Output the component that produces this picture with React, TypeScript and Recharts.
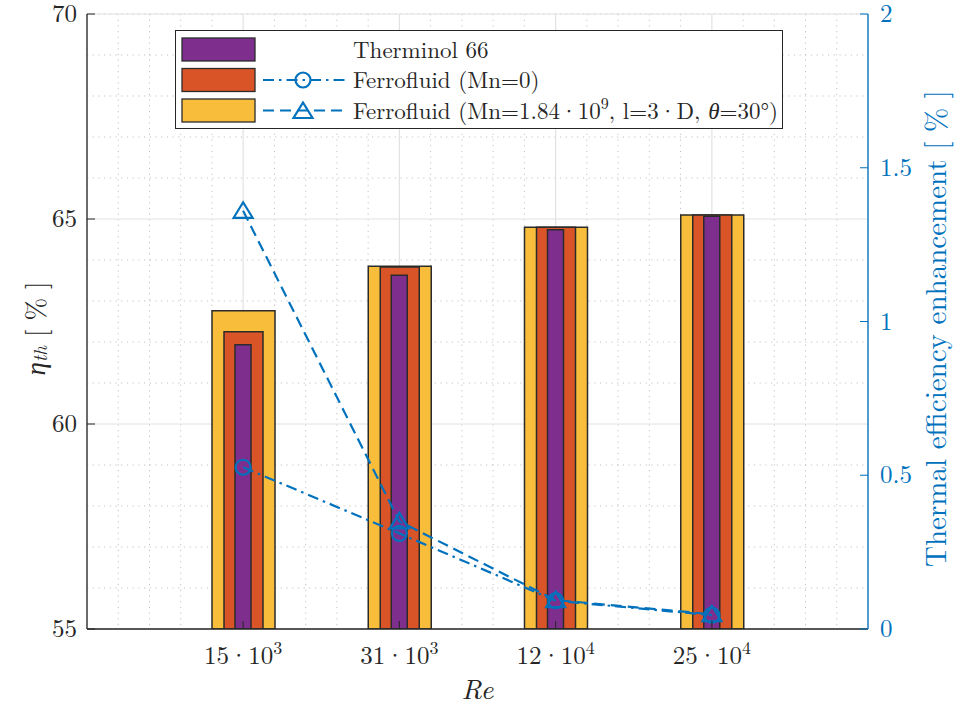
import React from 'react';
import {
  ComposedChart,
  Bar,
  Line,
  XAxis,
  YAxis,
  CartesianGrid,
  Legend,
  Label,
} from 'recharts';

// Reynolds numbers (mantissa and power of ten) shown on the x axis
const reBase = ['15', '31', '12', '25'];
const reExp = ['3', '3', '4', '4'];

// Thermal efficiency, left axis [%]
const therminol66 = [61.93, 63.63, 64.74, 65.07];
const ferroMn0 = [62.25, 63.83, 64.8, 65.1];
const ferroMagnetic = [62.76, 63.85, 64.8, 65.1];

// Thermal efficiency enhancement, right axis [%]
const enhanceMn0 = [0.526, 0.311, 0.092, 0.045];
const enhanceMagnetic = [1.36, 0.35, 0.094, 0.048];

// Axis ticks
const leftTicks = [55, 60, 65, 70];
const rightTicks = [0, 0.5, 1, 1.5, 2];
const minorYTicks = [56, 57, 58, 59, 61, 62, 63, 64, 66, 67, 68, 69];
const minorXTicks = [
  0.2, 0.4, 0.6, 0.8, 1.2, 1.4, 1.6, 1.8, 2.2, 2.4, 2.6, 2.8, 3.2, 3.4, 3.6, 3.8, 4.2, 4.4,
  4.6, 4.8,
];

const rows = reBase.map((b, i) => ({
  cat: `${b}·10^${reExp[i]}`,
  pos: i + 1,
  therminol66: therminol66[i],
  ferroMn0: ferroMn0[i],
  ferroMagnetic: ferroMagnetic[i],
  enhanceMn0: enhanceMn0[i],
  enhanceMagnetic: enhanceMagnetic[i],
}));

const FONT = "'Latin Modern Roman', 'Times New Roman', Times, serif";
const BLUE = '#0072BD';
const AXIS = '#262626';
const EDGE = '#2b2b2b';
const PURPLE = '#7E2F8E';
const ORANGE = '#D95427';
const YELLOW = '#F9BD3C';

const DASH_DOT = '11 5 2.5 5';
const DASHED = '11 6';

const serif = (size: number, extra: React.CSSProperties = {}): React.CSSProperties => ({
  fontFamily: FONT,
  fontSize: size,
  ...extra,
});

const CircleMark = (cx: number, cy: number, key?: string) => (
  <circle key={key} cx={cx} cy={cy} r={7.5} fill="none" stroke={BLUE} strokeWidth={2.2} />
);

const TriangleMark = (cx: number, cy: number, key?: string) => (
  <path
    key={key}
    d={`M${cx},${cy - 8.5} L${cx + 9.5},${cy + 7} L${cx - 9.5},${cy + 7} Z`}
    fill="none"
    stroke={BLUE}
    strokeWidth={2.2}
    strokeLinejoin="miter"
  />
);

const XTick = (props: any) => {
  const { x, y, payload } = props;
  const [base, exp] = String(payload.value).split('^');
  return (
    <g>
      <line x1={x} x2={x} y1={y} y2={y - 8} stroke={AXIS} strokeWidth={1} />
      <text x={x} y={y + 35} textAnchor="middle" style={serif(25)} fill="#262626">
        {base}
        <tspan dy={-10} style={serif(18)}>
          {exp}
        </tspan>
      </text>
    </g>
  );
};

const LeftTick = (props: any) => {
  const { x, y, payload } = props;
  return (
    <g>
      <line x1={x} x2={x + 8} y1={y} y2={y} stroke={AXIS} strokeWidth={1} />
      <text x={x - 10} y={y + 8} textAnchor="end" style={serif(25)} fill="#262626">
        {payload.value}
      </text>
    </g>
  );
};

const RightTick = (props: any) => {
  const { x, y, payload } = props;
  return (
    <g>
      <line x1={x - 8} x2={x} y1={y} y2={y} stroke={BLUE} strokeWidth={1} />
      <text x={x + 12} y={y + 8} textAnchor="start" style={serif(25)} fill={BLUE}>
        {payload.value}
      </text>
    </g>
  );
};

const LeftTitle = (props: any) => {
  const vb = props.viewBox;
  const cx = vb.x + 7;
  const cy = vb.y + vb.height / 2 + 7;
  return (
    <text
      x={cx}
      y={cy}
      transform={`rotate(-90 ${cx} ${cy})`}
      textAnchor="middle"
      dominantBaseline="central"
      style={serif(27)}
      fill="#262626"
    >
      <tspan style={serif(27, { fontStyle: 'italic' })}>η</tspan>
      <tspan style={serif(19, { fontStyle: 'italic' })} dy={5}>
        th
      </tspan>
      <tspan dy={-5}> [ % ]</tspan>
    </text>
  );
};

const RightTitle = (props: any) => {
  const vb = props.viewBox;
  const cx = vb.x + 65;
  const cy = vb.y + vb.height / 2 + 7;
  return (
    <text
      x={cx}
      y={cy}
      transform={`rotate(-90 ${cx} ${cy})`}
      textAnchor="middle"
      dominantBaseline="central"
      style={serif(29)}
      fill={BLUE}
    >
      Thermal efficiency enhancement [ % ]
    </text>
  );
};

const XTitle = (props: any) => {
  const vb = props.viewBox;
  return (
    <text
      x={vb.x + vb.width / 2}
      y={vb.y + 70}
      textAnchor="middle"
      style={serif(28, { fontStyle: 'italic' })}
      fill="#262626"
    >
      Re
    </text>
  );
};

const LegendBox = () => {
  const rowsY = [19.5, 50, 80.5];
  const patches = [PURPLE, ORANGE, YELLOW];
  return (
    <svg width={608} height={99} style={{ display: 'block' }}>
      <rect x={0.5} y={0.5} width={607} height={98} fill="#fff" stroke={AXIS} strokeWidth={1} />
      {patches.map((c, i) => (
        <rect
          key={c}
          x={7}
          y={rowsY[i] - 11.5}
          width={73}
          height={23}
          fill={c}
          stroke={EDGE}
          strokeWidth={1.3}
        />
      ))}
      <line x1={88} x2={170} y1={rowsY[1]} y2={rowsY[1]} stroke={BLUE} strokeWidth={2.2} strokeDasharray={DASH_DOT} />
      {CircleMark(128, rowsY[1])}
      <line x1={88} x2={170} y1={rowsY[2]} y2={rowsY[2]} stroke={BLUE} strokeWidth={2.2} strokeDasharray={DASHED} />
      {TriangleMark(128, rowsY[2] + 0.5)}
      <g style={serif(23)} fill="#262626">
        <text x={178} y={rowsY[0] + 8}>
          Therminol 66
        </text>
        <text x={178} y={rowsY[1] + 8}>
          Ferrofluid (Mn=0)
        </text>
        <text x={178} y={rowsY[2] + 8}>
          Ferrofluid (Mn=1.84·10
          <tspan dy={-10} style={serif(16)}>
            9
          </tspan>
          <tspan dy={10}>, l=3·D, </tspan>
          <tspan style={serif(23, { fontStyle: 'italic' })}>θ</tspan>
          <tspan>=30°)</tspan>
        </text>
      </g>
    </svg>
  );
};

export default function App() {
  return (
    <div style={{ position: 'absolute', left: 0, top: 0, background: '#fff', fontFamily: FONT }}>
      <ComposedChart
        width={957}
        height={709}
        data={rows}
        margin={{ top: 14, right: 29, bottom: 30, left: 27 }}
        style={{ fontFamily: FONT }}
      >
        <XAxis
          xAxisId="minorX"
          type="number"
          dataKey="pos"
          domain={[0, 5]}
          ticks={minorXTicks}
          allowDataOverflow
          hide
        />
        <YAxis yAxisId="minorY" type="number" domain={[55, 70]} ticks={minorYTicks} allowDataOverflow hide />
        <CartesianGrid xAxisId="minorX" yAxisId="minorY" stroke="#c2c2c2" strokeDasharray="1.2 4.5" />
        <CartesianGrid xAxisId="a" yAxisId="left" stroke="#e2e2e2" strokeWidth={1.2} />

        <XAxis
          xAxisId="a"
          dataKey="cat"
          padding={{ left: 78, right: 78 }}
          height={50}
          interval={0}
          tickSize={0}
          tickMargin={0}
          tickLine={false}
          axisLine={{ stroke: AXIS, strokeWidth: 1.3 }}
          tick={XTick}
        >
          <Label content={XTitle} />
        </XAxis>
        <XAxis xAxisId="b" dataKey="cat" padding={{ left: 78, right: 78 }} hide />
        <XAxis xAxisId="c" dataKey="cat" padding={{ left: 78, right: 78 }} hide />

        <YAxis
          yAxisId="left"
          type="number"
          domain={[55, 70]}
          ticks={leftTicks}
          width={60}
          tickSize={0}
          tickMargin={0}
          tickLine={false}
          axisLine={{ stroke: AXIS, strokeWidth: 1.3 }}
          tick={LeftTick}
          allowDataOverflow
        >
          <Label content={LeftTitle} />
        </YAxis>
        <YAxis
          yAxisId="right"
          orientation="right"
          type="number"
          domain={[0, 2]}
          ticks={rightTicks}
          width={60}
          tickSize={0}
          tickMargin={0}
          tickLine={false}
          axisLine={{ stroke: BLUE, strokeWidth: 1.3 }}
          tick={RightTick}
          allowDataOverflow
        >
          <Label content={RightTitle} />
        </YAxis>

        <Bar
          xAxisId="c"
          yAxisId="left"
          dataKey="ferroMagnetic"
          barSize={63}
          fill={YELLOW}
          stroke={EDGE}
          strokeWidth={1.5}
          isAnimationActive={false}
        />
        <Bar
          xAxisId="b"
          yAxisId="left"
          dataKey="ferroMn0"
          barSize={39}
          fill={ORANGE}
          stroke={EDGE}
          strokeWidth={1.5}
          isAnimationActive={false}
        />
        <Bar
          xAxisId="a"
          yAxisId="left"
          dataKey="therminol66"
          barSize={16}
          fill={PURPLE}
          stroke={EDGE}
          strokeWidth={1.5}
          isAnimationActive={false}
        />

        <Line
          xAxisId="a"
          yAxisId="right"
          dataKey="enhanceMn0"
          stroke={BLUE}
          strokeWidth={2.2}
          strokeDasharray={DASH_DOT}
          dot={(p: any) => CircleMark(p.cx, p.cy, `c${p.index}`)}
          activeDot={false}
          isAnimationActive={false}
        />
        <Line
          xAxisId="a"
          yAxisId="right"
          dataKey="enhanceMagnetic"
          stroke={BLUE}
          strokeWidth={2.2}
          strokeDasharray={DASHED}
          dot={(p: any) => TriangleMark(p.cx, p.cy, `t${p.index}`)}
          activeDot={false}
          isAnimationActive={false}
        />

        <Legend
          layout="horizontal"
          verticalAlign="middle"
          align="center"
          content={LegendBox}
          wrapperStyle={{ left: 175, top: 30, width: 608, height: 99, bottom: 'auto', right: 'auto' }}
        />
      </ComposedChart>
    </div>
  );
}
